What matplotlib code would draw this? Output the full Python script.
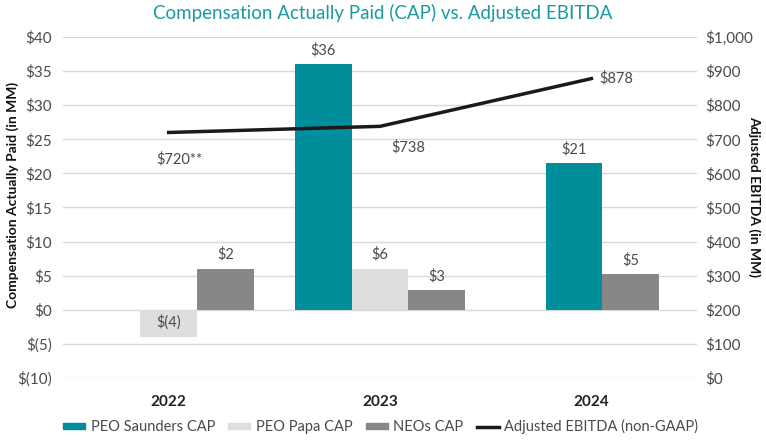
import matplotlib
matplotlib.use('Agg')

import matplotlib.pyplot as plt
import numpy as np
from matplotlib.patches import Patch
from matplotlib.lines import Line2D

plt.rcParams['font.family'] = ['Lato', 'DejaVu Sans']

years = ['2022', '2023', '2024']
saunders = [None, 36, 21.5]
papa = [-4, 6, None]
neos = [6, 2.9, 5.2]
saunders_lbl = ['', '$36', '$21']
papa_lbl = ['$(4)', '$6', '']
neos_lbl = ['$2', '$3', '$5']
ebitda = [720, 738, 878]
ebitda_lbl = ['$720**', '$738', '$878']

left_ticks = [-10, -5, 0, 5, 10, 15, 20, 25, 30, 35, 40]
left_tick_lbl = ['$(10)', '$(5)', '$0', '$5', '$10', '$15', '$20', '$25', '$30', '$35', '$40']
right_ticks = list(range(0, 1001, 100))
right_tick_lbl = ['$0', '$100', '$200', '$300', '$400', '$500', '$600', '$700', '$800', '$900', '$1,000']

teal = '#008e9b'
light = '#dcdfde'
dark = '#878787'
txt = '#4a4a4a'

fig = plt.figure(figsize=(7.66, 4.42), dpi=100)
ax = fig.add_axes([0.0822, 0.1448, 0.8278, 0.7715])
ax2 = ax.twinx()

w = 0.268
# per-year offsets (2024 has only two bars, placed side by side)
offs = {
    'saunders': [-w, -w, -0.083],
    'papa': [0, 0, 0],
    'neos': [w, w, 0.185],
}
x = np.arange(len(years))

def draw(vals, lbls, key, color):
    for i, v in enumerate(vals):
        if v is None:
            continue
        xi = x[i] + offs[key][i]
        ax.bar(xi, v, width=w, color=color, zorder=2)
        if lbls[i]:
            ax.annotate(lbls[i], (xi, v), xytext=(0, 5), textcoords='offset points',
                        ha='center', va='bottom', fontsize=10.5, color=txt)

draw(saunders, saunders_lbl, 'saunders', teal)
draw(papa, papa_lbl, 'papa', light)
draw(neos, neos_lbl, 'neos', dark)

ax.set_xlim(-0.5, 2.5)
ax.set_ylim(-10, 40)
ax.set_yticks(left_ticks)
ax.set_yticklabels(left_tick_lbl)
ax.set_xticks(x)
ax.set_xticklabels(years, fontweight='bold', fontsize=11, color='#222222')
ax.grid(axis='y', color='#d9d9d9', linewidth=1, zorder=0)
ax.set_axisbelow(True)
ax.tick_params(length=0, labelsize=11, colors=txt, pad=8)
ax.tick_params(axis='x', colors='#222222', pad=12)
for s in ax.spines.values():
    s.set_visible(False)

ax2.plot(x, ebitda, color='#1a1a1a', linewidth=2.5, zorder=5)
ax2.set_ylim(0, 1000)
ax2.set_yticks(right_ticks)
ax2.set_yticklabels(right_tick_lbl)
ax2.tick_params(length=0, labelsize=11, colors=txt, pad=6)
for s in ax2.spines.values():
    s.set_visible(False)

ax2.annotate(ebitda_lbl[0], (x[0], ebitda[0]), xytext=(8, -14), textcoords='offset points',
             ha='center', va='top', fontsize=10.5, color=txt)
ax2.annotate(ebitda_lbl[1], (x[1], ebitda[1]), xytext=(20, -10), textcoords='offset points',
             ha='center', va='top', fontsize=10.5, color=txt)
ax2.annotate(ebitda_lbl[2], (x[2], ebitda[2]), xytext=(6, 0), textcoords='offset points',
             ha='left', va='center', fontsize=10.5, color=txt)

fig.text(0.016, 0.56, 'Compensation Actually Paid (in MM)', fontweight='bold', fontsize=10,
         color='#111111', rotation=90, ha='center', va='center')
fig.text(0.985, 0.555, 'Adjusted EBITDA (in MM)', fontweight='bold', fontsize=10,
         color='#111111', rotation=-90, ha='center', va='center')

fig.suptitle('Compensation Actually Paid (CAP) vs. Adjusted EBITDA', color='#1a9aa2',
             fontsize=13.5, y=0.99)

handles = [Patch(color=teal), Patch(color=light), Patch(color=dark),
           Line2D([0], [0], color='#1a1a1a', linewidth=2.5)]
labels = ['PEO Saunders CAP', 'PEO Papa CAP', 'NEOs CAP', 'Adjusted EBITDA (non-GAAP)']
fig.legend(handles, labels, loc='lower center', bbox_to_anchor=(0.497, -0.012), ncol=4,
           frameon=False, fontsize=10.5, handlelength=1.5, handleheight=0.35,
           columnspacing=0.9, handletextpad=0.4, labelcolor=txt)

fig.savefig('out.png', dpi=100)
